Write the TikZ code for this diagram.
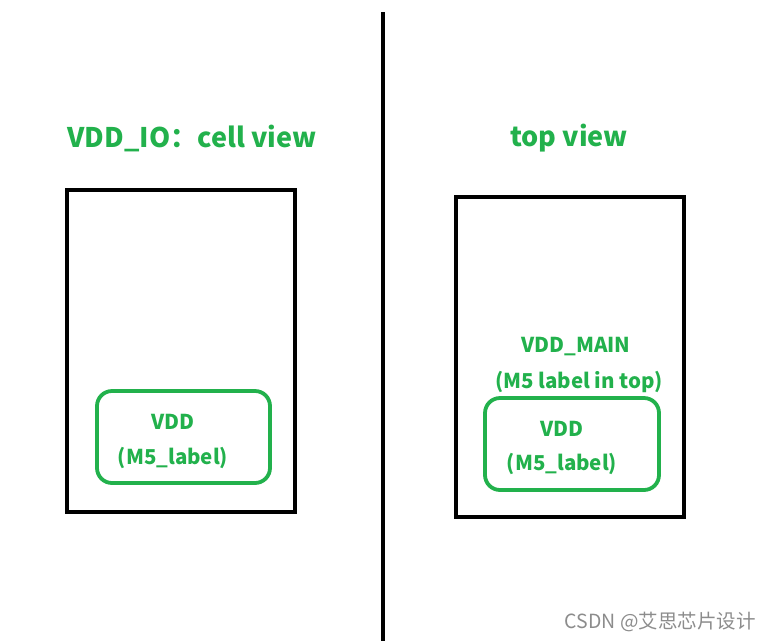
\documentclass[tikz,border=0pt]{standalone}
\usepackage{fontspec}
\setmainfont{Noto Sans CJK SC}
\newfontfamily\cjk{Noto Sans CJK SC}
\definecolor{pgreen}{RGB}{34,177,76}
\begin{document}
\begin{tikzpicture}[x=1pt,y=-1pt,
  blackbox/.style={draw=black,line width=4pt},
  greenbox/.style={draw=pgreen,line width=3.8pt,rounded corners=15pt},
  title/.style={text=pgreen,font=\fontsize{27}{30}\selectfont\bfseries,inner sep=0pt},
  lbl/.style={text=pgreen,font=\fontsize{20.5}{24}\selectfont\bfseries,inner sep=0pt}]
\useasboundingbox (0,0) rectangle (770,641);
\coordinate (vtop) at (383,12);
\coordinate (vbot) at (383,641);
\draw[line width=4pt] (vtop) -- (vbot);
\node[title] (t1) at (192,138) {VDD\_IO：cell view};
\node[title] (t2) at (569,138) {top view};
\node[blackbox,minimum width=228pt,minimum height=322pt,inner sep=0pt] (lbox) at (181,351) {};
\node[blackbox,minimum width=228pt,minimum height=320pt,inner sep=0pt] (rbox) at (570,357) {};
\node[greenbox,minimum width=173pt,minimum height=92pt,inner sep=0pt] (lg) at (183.5,437) {};
\node[greenbox,minimum width=174pt,minimum height=92pt,inner sep=0pt] (rg) at (572,444) {};
\node[lbl] (lv) at (173,422) {VDD};
\node[lbl] (lm) at (173,458) {(M5\_label)};
\node[lbl] (rv) at (562,429) {VDD};
\node[lbl] (rm) at (562,464) {(M5\_label)};
\node[lbl] (main) at (576,347) {VDD\_MAIN};
\node[lbl] (maintop) at (579,382) {(M5 label in top)};
\node[text=black!45,font=\cjk\fontsize{19.5}{22}\selectfont,inner sep=0pt,anchor=east] (wm) at (756,622) {CSDN @艾思芯片设计};
\end{tikzpicture}
\end{document}
